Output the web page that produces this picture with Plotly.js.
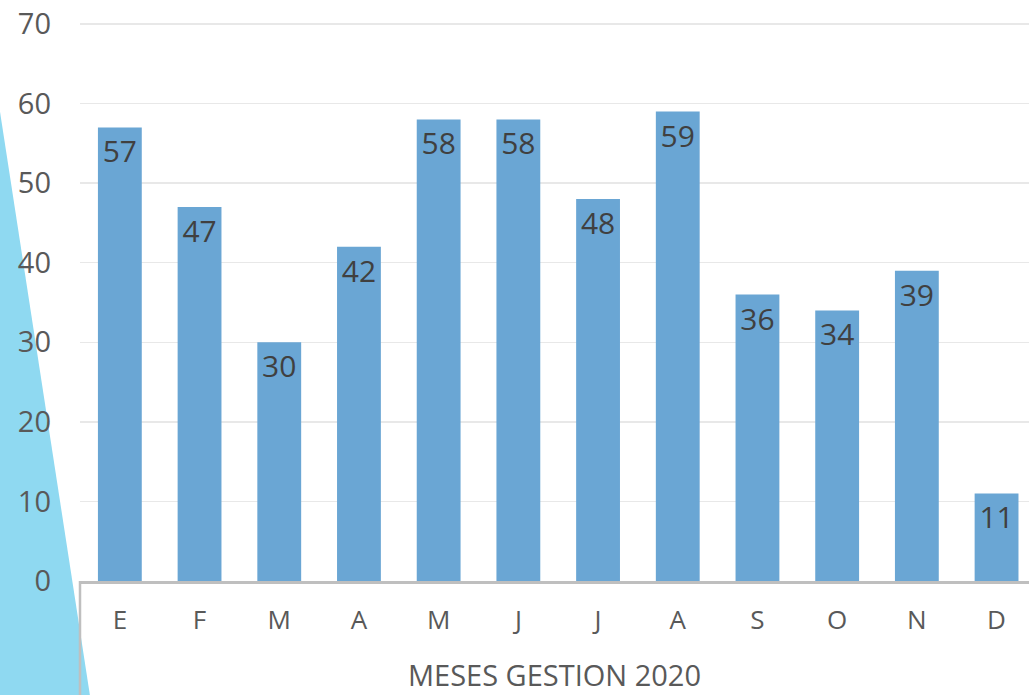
<!DOCTYPE html>
<html>
<head>
<meta charset="utf-8">
<script src="https://cdn.plot.ly/plotly-3.0.1.min.js"></script>
<style>html,body{margin:0;padding:0;background:#fff;}#chart{width:1029px;height:695px;}</style>
</head>
<body>
<div id="chart"></div>
<script>
const months = ['E','F','M','A','M','J','J','A','S','O','N','D'];
const values = [57,47,30,42,58,58,48,59,36,34,39,11];
const yTicks = [0,10,20,30,40,50,60,70];
const xTitle = 'MESES GESTION 2020';

const xs = months.map((_, i) => i);

const trace = {
  type: 'bar',
  x: xs,
  y: values,
  width: 0.55,
  marker: {color: 'rgb(106,166,212)', line: {width: 0}},
  text: values.map(String),
  textposition: 'inside',
  insidetextanchor: 'end',
  textangle: 0,
  insidetextfont: {family: 'Open Sans, Noto Sans, sans-serif', size: 30, color: '#404040'},
  hoverinfo: 'none',
  cliponaxis: false
};

const layout = {
  width: 1029,
  height: 695,
  margin: {l: 80, r: 0, t: 20, b: 114},
  paper_bgcolor: '#ffffff',
  plot_bgcolor: 'rgba(0,0,0,0)',
  showlegend: false,
  bargap: 0.45,
  font: {family: 'Open Sans, Noto Sans, sans-serif', color: '#595959'},
  xaxis: {
    range: [-0.5, 11.407],
    tickmode: 'array',
    tickvals: xs,
    ticktext: months,
    showgrid: false,
    zeroline: false,
    showline: true,
    linecolor: '#bfbfbf',
    linewidth: 2.5,
    ticks: '',
    ticklabelstandoff: 14,
    tickfont: {size: 26, color: '#595959', family: 'Open Sans, Noto Sans, sans-serif'},
    title: {text: xTitle, font: {size: 29, color: '#595959', family: 'Open Sans, Noto Sans, sans-serif'}, standoff: 30}
  },
  yaxis: {
    range: [0, 70.5],
    tickmode: 'array',
    tickvals: yTicks,
    ticktext: yTicks.map(String),
    showgrid: true,
    gridcolor: '#e8e8e8',
    gridwidth: 1.5,
    zeroline: false,
    showline: false,
    ticks: '',
    ticklabelstandoff: 28,
    tickfont: {size: 29, color: '#595959', family: 'Open Sans, Noto Sans, sans-serif'}
  },
  shapes: [
    {
      type: 'path',
      xref: 'paper', yref: 'paper',
      path: 'M -0.0843 0.8366 L 0.01054 -0.2047 L -0.0843 -0.2047 Z',
      fillcolor: 'rgb(143,217,241)',
      line: {width: 0},
      layer: 'below'
    },
    {
      type: 'line',
      xref: 'paper', yref: 'paper',
      x0: 0, x1: 0, y0: 0, y1: -0.2047,
      line: {color: '#bfbfbf', width: 2.5},
      layer: 'above'
    }
  ]
};

Plotly.newPlot('chart', [trace], layout, {displayModeBar: false, staticPlot: true});
</script>
</body>
</html>
